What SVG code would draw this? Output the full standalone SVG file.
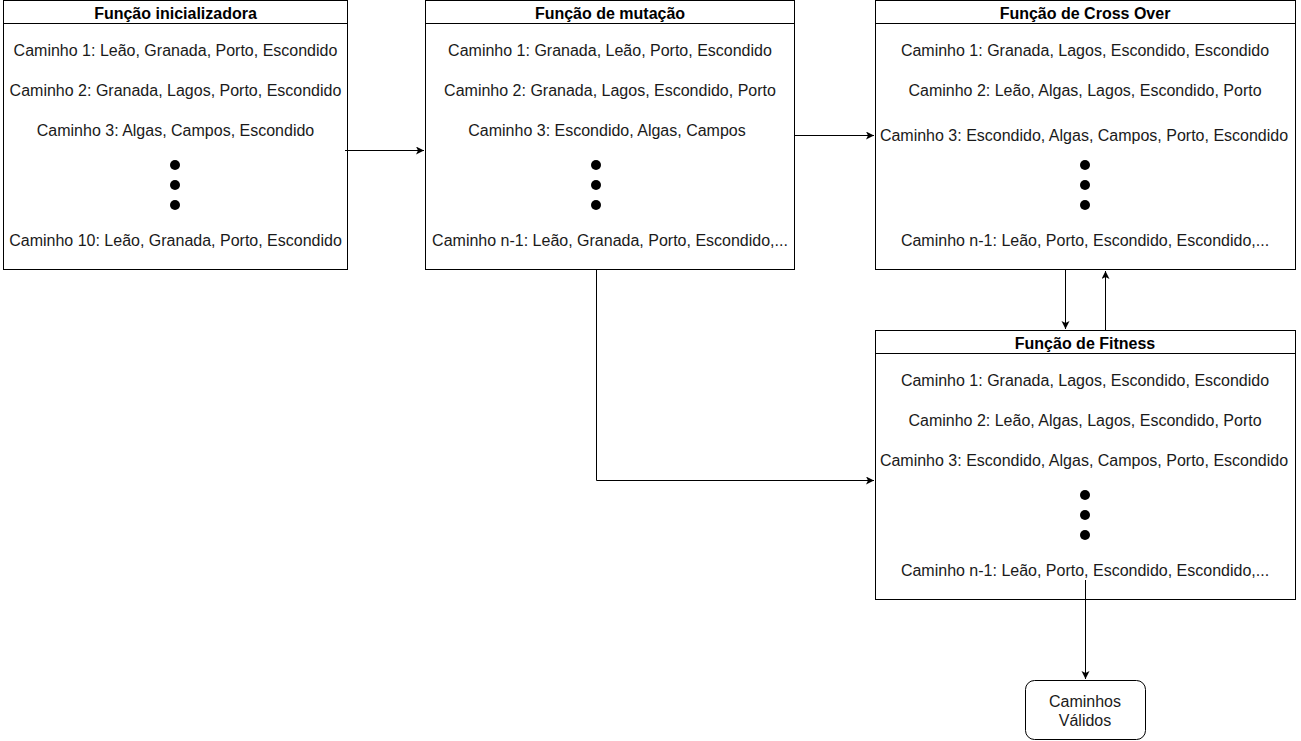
<svg xmlns="http://www.w3.org/2000/svg" width="1301" height="741" viewBox="0 0 1301 741">
<style>
.box{fill:#fff;stroke:#000;stroke-width:1}
.t{font-family:"Liberation Sans",Arial,sans-serif;font-size:16px;fill:#1a1a1a;text-anchor:middle}
.h{font-family:"Liberation Sans",Arial,sans-serif;font-size:16px;font-weight:bold;fill:#000;text-anchor:middle}
.dot{fill:#000}
.c{fill:none;stroke:#000;stroke-width:1}
</style>
<defs>
<marker id="arr" markerWidth="10" markerHeight="10" refX="8" refY="4" orient="auto" markerUnits="userSpaceOnUse">
<path d="M0,0 L8,4 L0,8 L2,4 Z" fill="#000"/>
</marker>
</defs>
<rect width="1301" height="741" fill="#fff"/>
<g id="node-inicializadora">
<rect class="box" x="3.5" y="0.5" width="344" height="269"/>
<line class="c" x1="3.5" y1="23.5" x2="347.5" y2="23.5"/>
<text class="h" x="175.5" y="19">Função inicializadora</text>
<text class="t" x="175.5" y="56">Caminho 1: Leão, Granada, Porto, Escondido</text>
<text class="t" x="175.5" y="96">Caminho 2: Granada, Lagos, Porto, Escondido</text>
<text class="t" x="175.5" y="136">Caminho 3: Algas, Campos, Escondido</text>
<circle class="dot" cx="175" cy="165" r="5"/>
<circle class="dot" cx="175" cy="185" r="5"/>
<circle class="dot" cx="175" cy="205" r="5"/>
<text class="t" x="175.5" y="246">Caminho 10: Leão, Granada, Porto, Escondido</text>
</g>
<g id="node-mutacao">
<rect class="box" x="425.5" y="0.5" width="369" height="269"/>
<line class="c" x1="425.5" y1="23.5" x2="794.5" y2="23.5"/>
<text class="h" x="610" y="19">Função de mutação</text>
<text class="t" x="610" y="56">Caminho 1: Granada, Leão, Porto, Escondido</text>
<text class="t" x="610" y="96">Caminho 2: Granada, Lagos, Escondido, Porto</text>
<text class="t" x="607" y="136">Caminho 3: Escondido, Algas, Campos</text>
<circle class="dot" cx="596" cy="165" r="5"/>
<circle class="dot" cx="596" cy="185" r="5"/>
<circle class="dot" cx="596" cy="205" r="5"/>
<text class="t" x="610" y="246">Caminho n-1: Leão, Granada, Porto, Escondido,...</text>
</g>
<g id="node-crossover">
<rect class="box" x="875.5" y="0.5" width="420" height="269"/>
<line class="c" x1="875.5" y1="23.5" x2="1295.5" y2="23.5"/>
<text class="h" x="1085" y="19">Função de Cross Over</text>
<text class="t" x="1085" y="56">Caminho 1: Granada, Lagos, Escondido, Escondido</text>
<text class="t" x="1085" y="96">Caminho 2: Leão, Algas, Lagos, Escondido, Porto</text>
<text class="t" x="1084" y="141">Caminho 3: Escondido, Algas, Campos, Porto, Escondido</text>
<circle class="dot" cx="1085" cy="165" r="5"/>
<circle class="dot" cx="1085" cy="185" r="5"/>
<circle class="dot" cx="1085" cy="205" r="5"/>
<text class="t" x="1085" y="246">Caminho n-1: Leão, Porto, Escondido, Escondido,...</text>
</g>
<g id="node-fitness">
<rect class="box" x="875.5" y="330.5" width="420" height="269"/>
<line class="c" x1="875.5" y1="353.5" x2="1295.5" y2="353.5"/>
<text class="h" x="1085" y="349">Função de Fitness</text>
<text class="t" x="1085" y="386">Caminho 1: Granada, Lagos, Escondido, Escondido</text>
<text class="t" x="1085" y="426">Caminho 2: Leão, Algas, Lagos, Escondido, Porto</text>
<text class="t" x="1084" y="466">Caminho 3: Escondido, Algas, Campos, Porto, Escondido</text>
<circle class="dot" cx="1085" cy="495" r="5"/>
<circle class="dot" cx="1085" cy="515" r="5"/>
<circle class="dot" cx="1085" cy="535" r="5"/>
<text class="t" x="1085" y="576">Caminho n-1: Leão, Porto, Escondido, Escondido,...</text>
</g>
<g id="node-validos">
<rect class="box" x="1025.5" y="680.5" width="120" height="59" rx="9" ry="9"/>
<text class="t" x="1085" y="707">Caminhos</text>
<text class="t" x="1085" y="726">Válidos</text>
</g>
<g id="connectors">
<path class="c" d="M345,150.5 L424,150.5" marker-end="url(#arr)"/>
<path class="c" d="M794,135.5 L874,135.5" marker-end="url(#arr)"/>
<path class="c" d="M596.5,270 L596.5,480.5 L874,480.5" marker-end="url(#arr)"/>
<path class="c" d="M1065.5,270 L1065.5,329" marker-end="url(#arr)"/>
<path class="c" d="M1105.5,330 L1105.5,271" marker-end="url(#arr)"/>
<path class="c" d="M1085.5,580 L1085.5,679" marker-end="url(#arr)"/>
</g>
</svg>
